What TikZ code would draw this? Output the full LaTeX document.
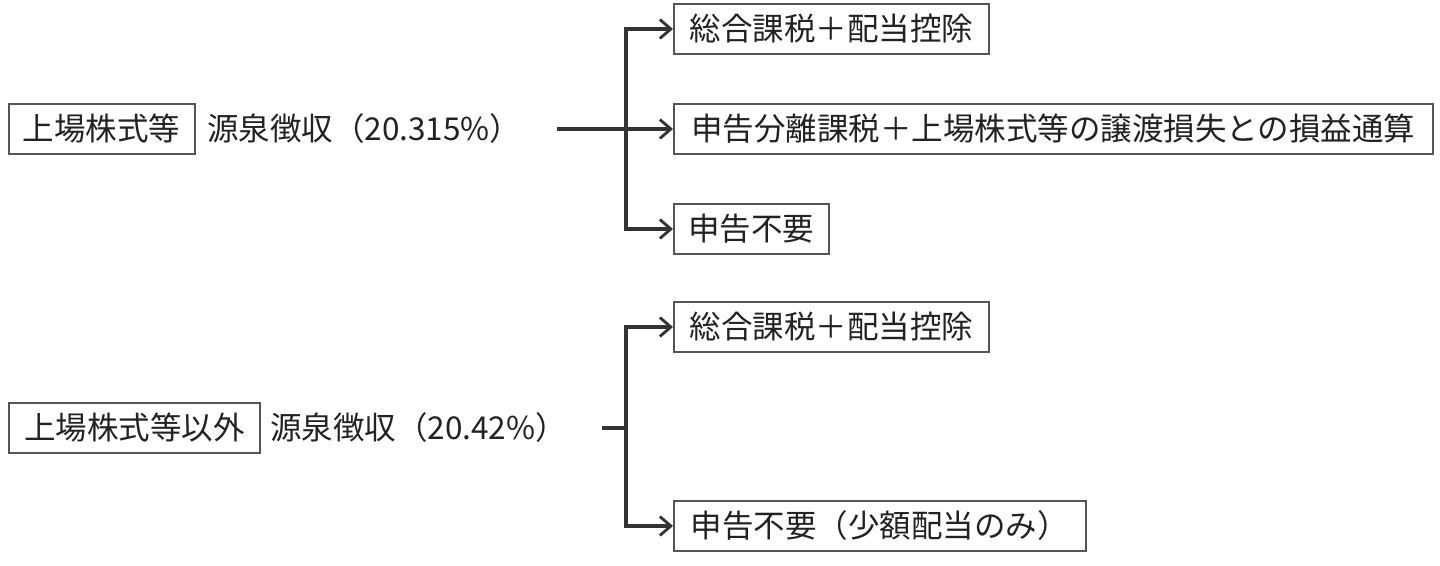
\documentclass[tikz,border=0pt]{standalone}
\usepackage{fontspec}
\setmainfont{Noto Sans CJK JP}
\usetikzlibrary{arrows.meta}
\definecolor{ln}{HTML}{333333}
\definecolor{bd}{HTML}{555555}
\definecolor{tx}{HTML}{222222}
\begin{document}
\begin{tikzpicture}[x=1pt,y=-1pt,
  box/.style={draw=bd,line width=1.5pt,anchor=west,minimum height=50pt,inner xsep=10pt,inner ysep=0pt,text=tx,font=\fontsize{31.5}{38}\selectfont},
  lbl/.style={anchor=west,inner sep=0pt,text=tx,font=\fontsize{31.5}{38}\selectfont},
  arr/.style={draw=ln,line width=3.1pt,-{Straight Barb[length=11pt,width=19pt,line width=2.8pt]}},
  ln/.style={draw=ln,line width=3.1pt}]
\fill[white] (0,0) rectangle (1440,565);
\useasboundingbox (0,0) rectangle (1440,565);
% top group
\node[box,minimum width=186pt] (a) at (8,129) {上場株式等};
\node[lbl] (at) at (207,129) {源泉徴収（20.315\%）};
\node[box,minimum width=315pt] (b1) at (673,29) {総合課税＋配当控除};
\node[box,minimum width=759pt] (b2) at (673,129) {申告分離課税＋上場株式等の譲渡損失との損益通算};
\node[box,minimum width=155pt] (b3) at (673,229) {申告不要};
\coordinate (s1) at (557,129);
\coordinate (j1) at (626,129);
\draw[arr] (s1) -- (b2.west);
\draw[arr] (j1) |- (b1.west);
\draw[arr] (j1) |- (b3.west);
% bottom group
\node[box,minimum width=251pt] (c) at (8,428) {上場株式等以外};
\node[lbl] (ct) at (270,428) {源泉徴収（20.42\%）};
\node[box,minimum width=315pt] (d1) at (673,327) {総合課税＋配当控除};
\node[box,minimum width=412pt] (d2) at (673,526) {申告不要（少額配当のみ）};
\coordinate (s2) at (602,428);
\coordinate (j2) at (626,428);
\draw[ln] (s2) -- (j2);
\draw[arr] (j2) |- (d1.west);
\draw[arr] (j2) |- (d2.west);
\end{tikzpicture}
\end{document}
